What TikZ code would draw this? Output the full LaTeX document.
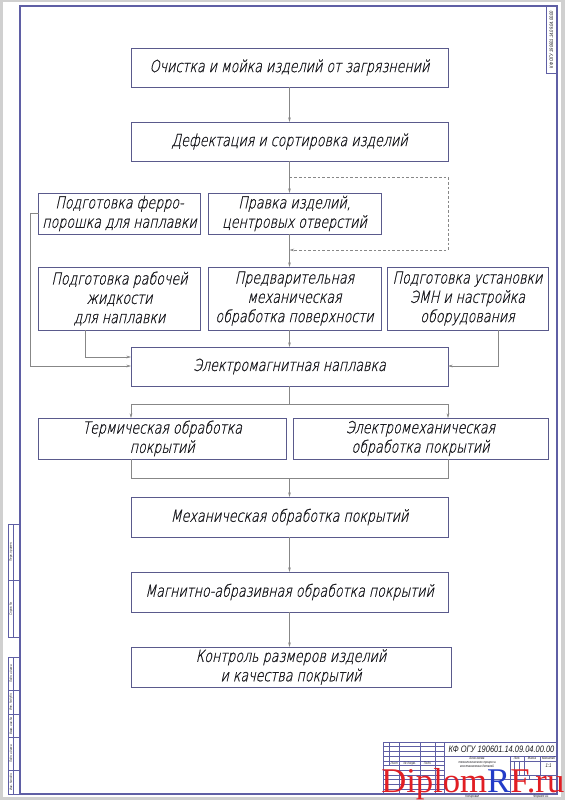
\documentclass[tikz,border=0pt]{standalone}
\usepackage{fontspec}
\setmainfont{Liberation Sans}
\newfontfamily\gost[FakeStretch=0.76, FakeSlant=0.22, FakeBold=0.7]{DejaVu Sans ExtraLight}
\newfontfamily\gostsm[FakeStretch=0.8]{Liberation Sans}
\newfontfamily\wmfont{Liberation Serif}
\usetikzlibrary{arrows.meta}
\definecolor{frm}{RGB}{95,95,165}
\definecolor{bxc}{RGB}{90,90,140}
\definecolor{cnc}{RGB}{135,135,135}
\definecolor{pagebg}{RGB}{208,208,208}
\definecolor{txt}{RGB}{25,25,30}
\definecolor{wmred}{RGB}{225,30,35}
\definecolor{wmblue}{RGB}{35,60,200}
\newcommand\mkbox[6]{\node[box, minimum width={(#4-#2)*0.75pt}, minimum height={(#5-#3)*0.75pt}] (#1) at ({(#2+#4)/2},{(#3+#5)/2}) {#6};}
\begin{document}
\begin{tikzpicture}[x=0.75pt,y=-0.75pt,
  box/.style={draw=bxc, line width=0.7pt, inner sep=0pt, outer sep=0pt, align=center,
    font=\gost\fontsize{12.5}{14.5}\selectfont, text=txt},
  conn/.style={draw=cnc, line width=0.45pt, -{Stealth[length=3.5pt,width=2pt]}},
  link/.style={draw=cnc, line width=0.45pt},
  dconn/.style={conn, dash pattern=on 2pt off 1.5pt},
  tiny/.style={inner sep=0pt, text=txt, font=\gostsm\itshape\fontsize{2.6}{3}\selectfont},
  thin/.style={draw=frm, line width=0.35pt}]
\useasboundingbox (0,0) rectangle (565,800);
\fill[pagebg] (0,0) rectangle (565,800);
\fill[white] (3,2) rectangle (561,797);
\draw[frm, line width=0.8pt] (20,6) rectangle (557,794);

% top-right label
\node[draw=frm, line width=0.5pt, rotate=90, inner sep=0pt, minimum width={67*0.75pt}, minimum height={11*0.75pt},
  text=txt, font=\gostsm\itshape\fontsize{3.8}{4}\selectfont] (lbl) at (551.5,39.5) {КФ ОГУ 190601.14.09.04.00.00};

% boxes
\mkbox{b1}{131}{48}{448}{87}{Очистка и мойка изделий от загрязнений}
\mkbox{b2}{131}{122}{448}{161}{Дефектация и сортировка изделий}
\mkbox{fe}{38.5}{193}{200.5}{234}{Подготовка ферро-\\порошка для наплавки}
\mkbox{pr}{208}{193}{381}{234}{Правка изделий,\\центровых отверстий}
\mkbox{rj}{38.5}{267}{200.5}{330}{Подготовка рабочей\\жидкости\\для наплавки}
\mkbox{pv}{208}{267}{381}{330}{Предварительная\\механическая\\обработка поверхности}
\mkbox{us}{387}{267}{548}{330}{Подготовка установки\\ЭМН и настройка\\оборудования}
\mkbox{em}{131}{347}{448}{386}{Электромагнитная наплавка}
\mkbox{th}{38.5}{418}{286}{459}{Термическая обработка\\покрытий}
\mkbox{ee}{293}{418}{548}{459}{Электромеханическая\\обработка покрытий}
\mkbox{mo}{131}{497}{448}{537}{Механическая обработка покрытий}
\mkbox{ma}{131}{572}{448}{612}{Магнитно-абразивная обработка покрытий}
\mkbox{kc}{131}{647}{451}{687}{Контроль размеров изделий\\и качества покрытий}

% connectors
\draw[conn] (b1.south) -- (b2.north);
\draw[conn] (b2.south) -- (b2.south |- pr.north);
\coordinate (d0) at (289.5,177);
\coordinate (d1) at (448,177);
\coordinate (d2) at (448,250);
\coordinate (d3) at (289.5,250);
\draw[dconn] (d0) -- (d1) -- (d2) -- (d3);
\draw[conn] (pr.south -| b2.south) -- (pv.north -| b2.south);
\draw[conn] (pv.south -| em.north) -- (em.north);
\coordinate (f1) at (30,213.5);
\coordinate (f2) at (30,366);
\draw[conn] (fe.west) -- (f1) -- (f2) -- (f2 -| em.west);
\coordinate (r1) at (85.5,357);
\draw[conn] (rj.south -| r1) -- (r1) -- (r1 -| em.west);
\coordinate (u1) at (498,366);
\draw[conn] (us.south -| u1) -- (u1) -- (u1 -| em.east);
\coordinate (s1) at (131,404);
\coordinate (s2) at (448,404);
\draw[link] (em.south) -- (em.south |- s1);
\draw[link] (s1) -- (s2);
\draw[conn] (s1) -- (s1 |- th.north);
\draw[conn] (s2) -- (s2 |- ee.north);
\coordinate (m1) at (131,478);
\coordinate (m2) at (448,478);
\draw[link] (th.south -| m1) -- (m1) -- (m2) -- (ee.south -| m2);
\draw[conn] (mo.north |- m1) -- (mo.north);
\draw[conn] (mo.south) -- (ma.north);
\draw[conn] (ma.south) -- (ma.south |- kc.north);

% left strips
\draw[thin] (8.7,524) rectangle (20,637);
\draw[thin] (13.4,524) -- (13.4,637);
\draw[thin] (8.7,580.5) -- (20,580.5);
\draw[thin] (8.7,657.7) rectangle (20,794);
\draw[thin] (13.4,657.7) -- (13.4,794);
\foreach \yy in {690.6,714.1,737.6,770.5} \draw[thin] (8.7,\yy) -- (20,\yy);
\node[tiny, rotate=90] (sl1) at (11,552) {Перв. примен.};
\node[tiny, rotate=90] (sl2) at (11,609) {Справ. №};
\node[tiny, rotate=90] (sl3) at (11,674) {Подп. и дата};
\node[tiny, rotate=90] (sl4) at (11,702) {Инв. № дубл.};
\node[tiny, rotate=90] (sl5) at (11,726) {Взам. инв. №};
\node[tiny, rotate=90] (sl6) at (11,754) {Подп. и дата};
\node[tiny, rotate=90] (sl7) at (11,782) {Инв. № подл.};

% title block
\begin{scope}[shift={(383,742)}, x=0.7054pt, y=-0.7054pt]
  \draw[frm, line width=0.6pt] (0,55) -- (0,0) -- (185,0);
  \draw[frm, line width=0.6pt] (65,0) -- (65,55);
  \foreach \yy in {5,10,...,50} \draw[thin] (0,\yy) -- (65,\yy);
  \draw[thin] (7,0) -- (7,25);
  \foreach \xx in {17,40,55} \draw[thin] (\xx,0) -- (\xx,55);
  \draw[frm, line width=0.5pt] (65,15) -- (185,15);
  \draw[frm, line width=0.5pt] (65,40) -- (185,40);
  \draw[thin] (135,15) -- (135,55);
  \draw[thin] (135,20) -- (185,20);
  \draw[thin] (135,35) -- (185,35);
  \foreach \xx in {140,145} \draw[thin] (\xx,20) -- (\xx,35);
  \foreach \xx in {150,167} \draw[thin] (\xx,15) -- (\xx,35);
  \draw[thin] (155,35) -- (155,40);
  \node[inner sep=0pt, text=txt, font=\gostsm\itshape\fontsize{7}{8}\selectfont] (des) at (126,7.5) {КФ ОГУ 190601.14.09.04.00.00};
  \node[tiny, align=center] (nm) at (100,22) {Блок-схема\\технологического процесса\\восстановления деталей};
  \node[tiny] (h2) at (12,22.5) {Лист};
  \node[tiny] (h3) at (28.5,22.5) {№ докум.};
  \node[tiny] (h4) at (47.5,22.5) {Подп.};
  \node[tiny] (t1) at (142.5,17.5) {Лит.};
  \node[tiny] (t2) at (158.5,17.5) {Масса};
  \node[tiny] (t3) at (176,17.5) {Масштаб};
  \node[tiny, font=\gostsm\itshape\fontsize{4}{5}\selectfont] (t4) at (176,25) {1:1};
  \node[tiny] (t7) at (95,58.5) {Копировал};
  \node[tiny] (t8) at (168,58.5) {Формат A1};
\end{scope}

% watermark
\node[anchor=base west, inner sep=0pt, font=\wmfont\fontsize{26}{26}\selectfont] (wm) at (381,792)
  {\textcolor{wmred}{Diplom}\textcolor{wmblue}{R}\textcolor{wmred}{F.ru}};
\end{tikzpicture}
\end{document}
